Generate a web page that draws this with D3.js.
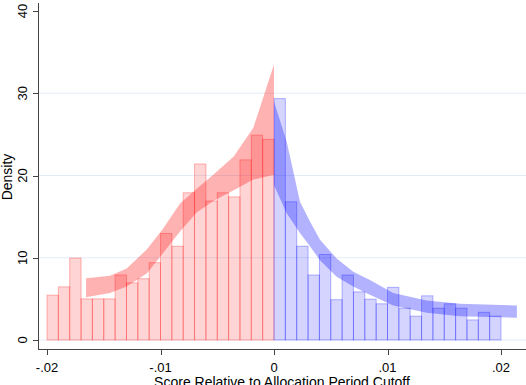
<!DOCTYPE html>
<html>
<head>
<meta charset="utf-8">
<script src="https://cdn.jsdelivr.net/npm/d3@7"></script>
<style>
  body { margin: 0; background: #fff; }
  text { font-family: "Liberation Sans", Arial, sans-serif; fill: #000; }
</style>
</head>
<body>
<div id="chart"></div>
<script>
// histogram bins (width .001), left and right of cutoff
var binWidth = 0.001;
var leftStarts = d3.range(20).map(function(i) { return -0.02 + i * binWidth; });
var rightStarts = d3.range(20).map(function(i) { return i * binWidth; });
var leftDens = [5.45, 6.46, 9.96, 5.0, 5.0, 5.0, 7.9, 6.95, 7.45, 9.4,
                12.95, 11.4, 17.9, 21.4, 16.9, 17.9, 17.4, 21.9, 24.9, 24.4];
var rightDens = [29.35, 16.8, 11.4, 7.9, 10.4, 4.9, 7.9, 5.85, 4.96, 4.4,
                 6.4, 3.86, 2.9, 5.37, 3.86, 4.4, 3.86, 2.44, 3.37, 2.9];

// confidence bands (x, lower, upper)
var leftBandX  = [-0.01656, -0.01445, -0.01298, -0.01121, -0.00975, -0.00828, -0.00681, -0.00535, -0.00355, -0.00182, 0];
var leftBandLo = [5.2, 5.7, 6.5, 8.1, 10.6, 13.2, 15.5, 16.9, 18.2, 19.5, 20.1];
var leftBandHi = [7.5, 7.8, 8.7, 11.0, 13.6, 16.6, 18.4, 20.1, 22.3, 25.8, 33.5];

var rightBandX  = [0, 0.00112, 0.00229, 0.00317, 0.00405, 0.00552, 0.00698, 0.00845, 0.0105, 0.01345, 0.01639, 0.0214];
var rightBandLo = [18.8, 15.4, 13.0, 11.4, 9.7, 7.7, 6.5, 5.5, 4.2, 3.3, 2.9, 2.7];
var rightBandHi = [29.0, 24.1, 16.8, 14.4, 12.2, 9.9, 8.3, 7.3, 5.7, 4.8, 4.4, 4.2];

var xTicks = [-0.02, -0.01, 0, 0.01, 0.02];
var xTickLabels = ["-.02", "-.01", "0", ".01", ".02"];
var yTicks = [0, 10, 20, 30, 40];
var gridTicks = [0, 10, 20, 30];

var width = 526, height = 385;

var svg = d3.select("#chart").append("svg")
    .attr("width", width)
    .attr("height", height);

var x = d3.scaleLinear().domain([-0.02, 0.02]).range([47, 501]);
var y = d3.scaleLinear().domain([0, 40]).range([340, 11]);

// gridlines
svg.selectAll(".grid")
    .data(gridTicks)
    .enter().append("line")
    .attr("x1", 39).attr("x2", width)
    .attr("y1", function(d) { return y(d); })
    .attr("y2", function(d) { return y(d); })
    .attr("stroke", "#e3edf8")
    .attr("stroke-width", 1);

function drawBars(starts, vals, col) {
    svg.selectAll(null)
        .data(starts.map(function(s, i) { return [s, vals[i]]; }))
        .enter().append("rect")
        .attr("x", function(d) { return x(d[0]); })
        .attr("y", function(d) { return y(d[1]); })
        .attr("width", function(d) { return x(d[0] + binWidth) - x(d[0]); })
        .attr("height", function(d) { return y(0) - y(d[1]); })
        .attr("fill", col)
        .attr("fill-opacity", 0.17)
        .attr("stroke", col)
        .attr("stroke-opacity", 0.28)
        .attr("stroke-width", 1);
}
drawBars(leftStarts, leftDens, "rgb(255,0,0)");
drawBars(rightStarts, rightDens, "rgb(0,0,255)");

function drawBand(xs, lo, hi, col) {
    var area = d3.area()
        .x(function(d) { return x(d[0]); })
        .y0(function(d) { return y(d[1]); })
        .y1(function(d) { return y(d[2]); });
    svg.append("path")
        .datum(xs.map(function(v, i) { return [v, lo[i], hi[i]]; }))
        .attr("d", area)
        .attr("fill", col)
        .attr("fill-opacity", 0.3);
}
drawBand(leftBandX, leftBandLo, leftBandHi, "rgb(255,0,0)");
drawBand(rightBandX, rightBandLo, rightBandHi, "rgb(0,0,255)");

// axes
var axisCol = "#444";
svg.append("line")
    .attr("x1", 38.5).attr("x2", 38.5)
    .attr("y1", 3).attr("y2", 349.5)
    .attr("stroke", axisCol);
svg.append("line")
    .attr("x1", 38).attr("x2", width)
    .attr("y1", 349.5).attr("y2", 349.5)
    .attr("stroke", axisCol);

svg.selectAll(".ytick")
    .data(yTicks)
    .enter().append("line")
    .attr("x1", 33).attr("x2", 38)
    .attr("y1", function(d) { return Math.round(y(d)) + 0.5; })
    .attr("y2", function(d) { return Math.round(y(d)) + 0.5; })
    .attr("stroke", axisCol);

svg.selectAll(".ylab")
    .data(yTicks)
    .enter().append("text")
    .attr("transform", function(d) { return "translate(27," + y(d) + ") rotate(-90)"; })
    .attr("text-anchor", "middle")
    .attr("font-size", 13)
    .text(function(d) { return d; });

svg.selectAll(".xtick")
    .data(xTicks)
    .enter().append("line")
    .attr("x1", function(d) { return Math.round(x(d)) + 0.5; })
    .attr("x2", function(d) { return Math.round(x(d)) + 0.5; })
    .attr("y1", 350).attr("y2", 355)
    .attr("stroke", axisCol);

svg.selectAll(".xlab")
    .data(xTicks)
    .enter().append("text")
    .attr("x", function(d) { return x(d); })
    .attr("y", 372)
    .attr("text-anchor", "middle")
    .attr("font-size", 13)
    .text(function(d, i) { return xTickLabels[i]; });

svg.append("text")
    .attr("x", 282)
    .attr("y", 387)
    .attr("text-anchor", "middle")
    .attr("font-size", 14)
    .text("Score Relative to Allocation Period Cutoff");

svg.append("text")
    .attr("transform", "translate(12,177) rotate(-90)")
    .attr("text-anchor", "middle")
    .attr("font-size", 14)
    .text("Density");
</script>
</body>
</html>
